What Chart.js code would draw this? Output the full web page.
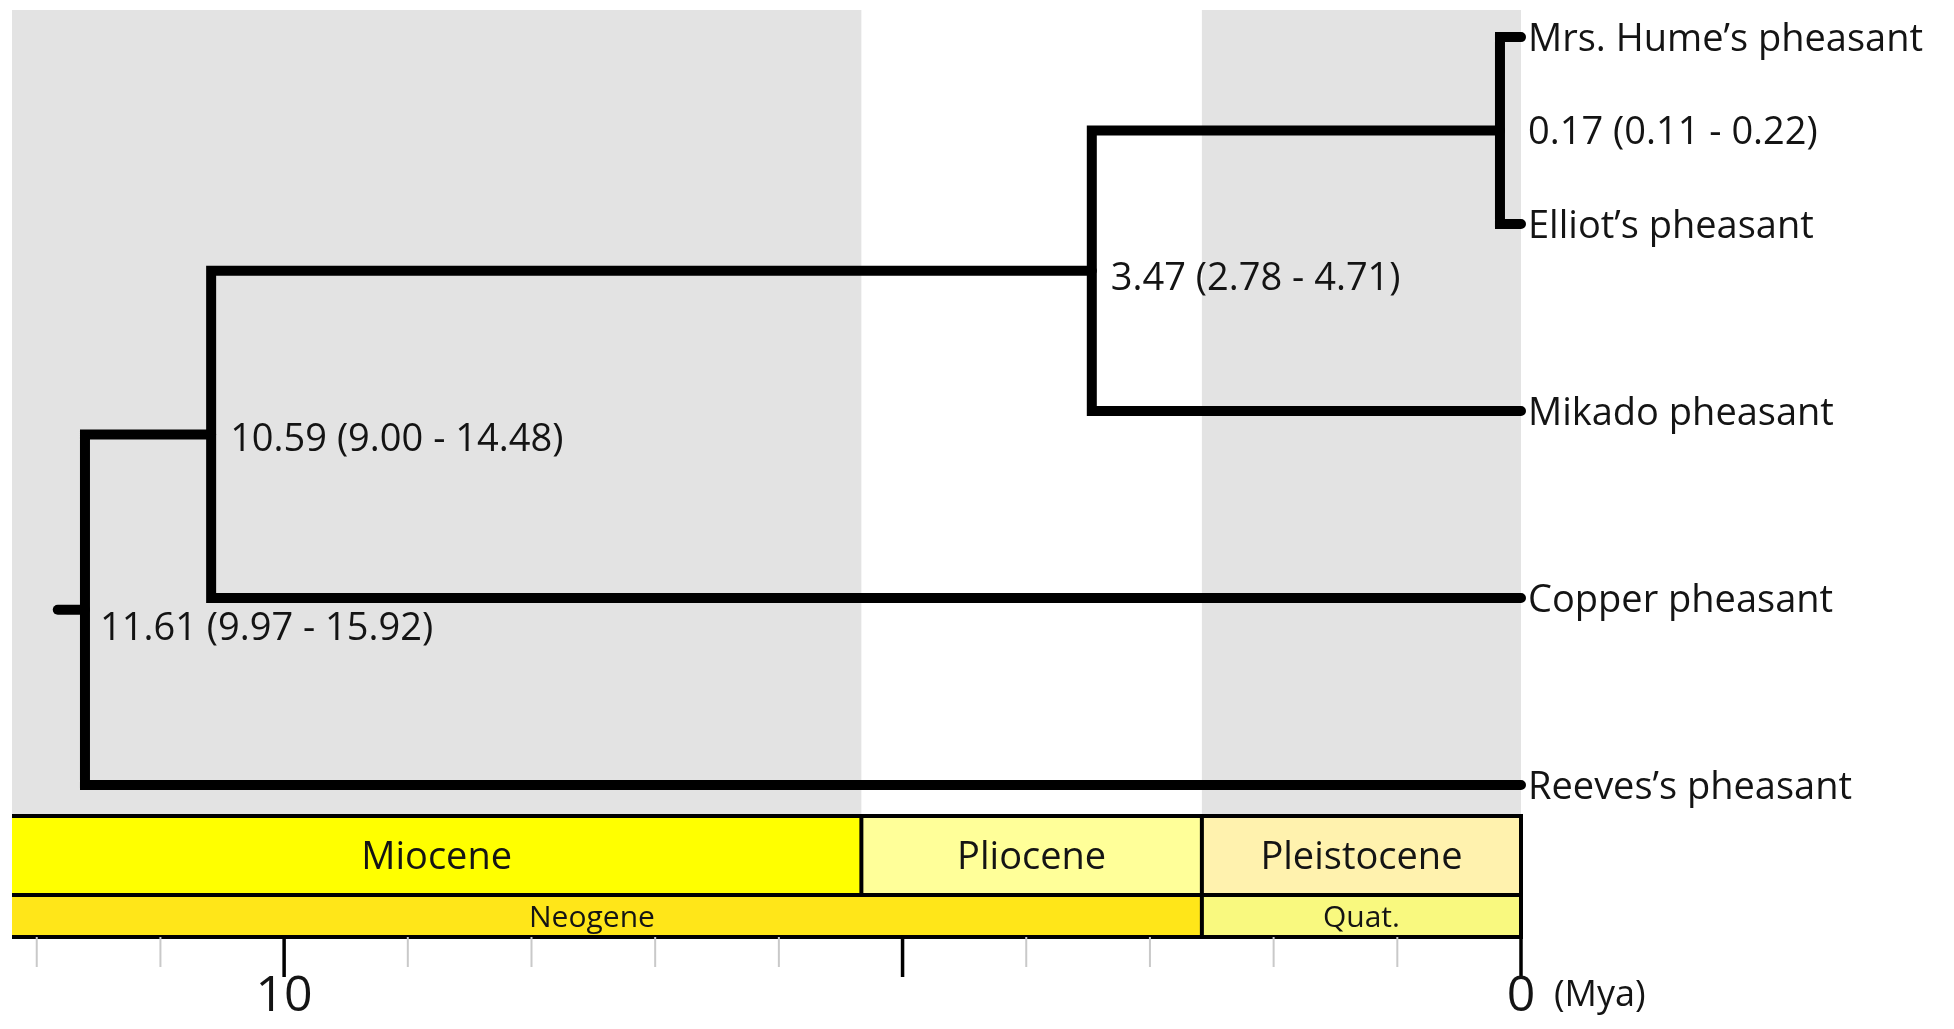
<!DOCTYPE html>
<html>
<head>
<meta charset="utf-8">
<title>Pheasant divergence times</title>
<script src="https://cdn.jsdelivr.net/npm/chart.js@4.4.1/dist/chart.umd.min.js"></script>
<style>
  html, body { margin: 0; padding: 0; background: #ffffff; }
  #wrap { position: relative; width: 1954px; height: 1029px; }
</style>
</head>
<body>
<div id="wrap"><canvas id="tree"></canvas></div>
<script>
// ---- Tree data -------------------------------------------------------------
// Tips, listed top to bottom
const taxa = ["Mrs. Hume’s pheasant", "Elliot’s pheasant", "Mikado pheasant", "Copper pheasant", "Reeves’s pheasant"];
const tipAges = [0, 0, 0, 0, 0];

// Divergence nodes (Mya) with 95% intervals
const nodeAges = [0.17, 3.47, 10.59, 11.61];
const nodeLow  = [0.11, 2.78, 9.00, 9.97];
const nodeHigh = [0.22, 4.71, 14.48, 15.92];
// Children of each node: "t" = tip index, "n" = node index
const nodeChildren = [["t0", "t1"], ["n0", "t2"], ["n1", "t3"], ["n2", "t4"]];
const rootStemAge = 11.83;

// ---- Geological time scale -------------------------------------------------
const epochNames = ["Miocene", "Pliocene", "Pleistocene"];
const epochStart = [23.03, 5.333, 2.58];
const epochEnd   = [5.333, 2.58, 0];
const epochColors = ["#ffff00", "#ffff99", "#fff2ae"];

const periodNames = ["Neogene", "Quat."];
const periodStart = [23.03, 2.58];
const periodEnd   = [2.58, 0];
const periodColors = ["#ffe619", "#f9f97f"];

// ---- Time axis -------------------------------------------------------------
const tickValues = [0, 1, 2, 3, 4, 5, 6, 7, 8, 9, 10, 11, 12];
const majorTicks = [0, 5, 10];
const tickLabelValues = [10, 0];
const tickLabelTexts = ["10", "0"];
const axisUnit = "(Mya)";

// ---- Layout of the cladogram (tips evenly spaced, nodes centred) ----------
const tipY = taxa.map((_, i) => i);
const nodeY = [];
function childPoint(code) {
  const k = Number(code.slice(1));
  return code[0] === "t" ? { x: tipAges[k], y: tipY[k] } : { x: nodeAges[k], y: nodeY[k] };
}
nodeChildren.forEach((pair, i) => {
  const a = childPoint(pair[0]), b = childPoint(pair[1]);
  nodeY[i] = (a.y + b.y) / 2;
});

const branchStyle = {
  showLine: true,
  borderColor: "#000000",
  borderWidth: 10,
  borderJoinStyle: "miter",
  borderCapStyle: "round",
  pointRadius: 0,
  pointHoverRadius: 0,
  tension: 0,
  clip: false
};

const datasets = nodeChildren.map((pair, i) => {
  const a = childPoint(pair[0]), b = childPoint(pair[1]);
  return Object.assign({
    label: "node " + nodeAges[i],
    data: [a, { x: nodeAges[i], y: a.y }, { x: nodeAges[i], y: b.y }, b]
  }, branchStyle);
});
const rootIdx = nodeAges.length - 1;
datasets.push(Object.assign({
  label: "root",
  data: [{ x: rootStemAge, y: nodeY[rootIdx] }, { x: nodeAges[rootIdx], y: nodeY[rootIdx] }]
}, branchStyle));

// ---- Styling ---------------------------------------------------------------
const FONT = "'Open Sans', 'Noto Sans', sans-serif";
const TEXT = "#141414";
const labelSize = 38;
// per-node label offsets (px) from the node position
const nodeLabelDx = [null, 19, 19, 15];
const nodeLabelDy = [0, 6, 3, 17];
const periodLabelDx = [-15, 0];

function textAtCentre(ctx, txt, x, yMid, size, align) {
  ctx.font = size + "px " + FONT;
  ctx.textAlign = align;
  ctx.textBaseline = "alphabetic";
  ctx.fillText(txt, x, yMid + size * 0.357);
}

const timescalePlugin = {
  id: "timescale",
  beforeDatasetsDraw(chart) {
    const { ctx, chartArea: ca, scales: { x } } = chart;
    ctx.save();
    ctx.fillStyle = "#e3e3e3";
    epochNames.forEach((_, i) => {
      if (i % 2) return;
      const l = Math.max(x.getPixelForValue(epochStart[i]), ca.left);
      const r = Math.min(x.getPixelForValue(epochEnd[i]), ca.right);
      ctx.fillRect(l, ca.top, r - l, ca.bottom - ca.top);
    });
    ctx.restore();
  },
  afterDatasetsDraw(chart) {
    const { ctx, chartArea: ca, scales: { x, y } } = chart;
    const x0 = x.getPixelForValue(0);
    const epochTop = ca.bottom, epochBot = ca.bottom + 79, periodBot = ca.bottom + 121;
    ctx.save();

    // epoch and period boxes
    const clampL = v => Math.max(x.getPixelForValue(v), ca.left);
    epochNames.forEach((name, i) => {
      const l = clampL(epochStart[i]), r = x.getPixelForValue(epochEnd[i]);
      ctx.fillStyle = epochColors[i];
      ctx.fillRect(l, epochTop, r - l, epochBot - epochTop);
      ctx.fillStyle = TEXT;
      textAtCentre(ctx, name, (l + r) / 2, (epochTop + epochBot) / 2, 38, "center");
    });
    periodNames.forEach((name, i) => {
      const l = clampL(periodStart[i]), r = x.getPixelForValue(periodEnd[i]);
      ctx.fillStyle = periodColors[i];
      ctx.fillRect(l, epochBot, r - l, periodBot - epochBot);
      ctx.fillStyle = TEXT;
      textAtCentre(ctx, name, (l + r) / 2 + periodLabelDx[i], (epochBot + periodBot) / 2, 30, "center");
    });

    ctx.strokeStyle = "#000000";
    ctx.lineWidth = 4;
    ctx.lineCap = "butt";
    ctx.beginPath();
    [epochTop, epochBot, periodBot].forEach(yy => { ctx.moveTo(ca.left, yy); ctx.lineTo(x0 + 2, yy); });
    epochEnd.forEach((v, i) => {
      const px = x.getPixelForValue(v);
      const isPeriodEdge = periodEnd.includes(v);
      ctx.moveTo(px, epochTop - 2);
      ctx.lineTo(px, isPeriodEdge ? periodBot : epochBot);
    });
    ctx.stroke();

    // time axis ticks
    tickValues.forEach(v => {
      const px = x.getPixelForValue(v);
      const major = majorTicks.includes(v);
      ctx.beginPath();
      ctx.strokeStyle = major ? "#000000" : "#c9c9c9";
      ctx.lineWidth = major ? 3.5 : 2;
      ctx.moveTo(px, periodBot);
      ctx.lineTo(px, periodBot + (major ? 40 : 30));
      ctx.stroke();
    });
    ctx.fillStyle = TEXT;
    tickLabelValues.forEach((v, i) => {
      textAtCentre(ctx, tickLabelTexts[i], x.getPixelForValue(v), periodBot + 56, 50, "center");
    });
    textAtCentre(ctx, axisUnit, x0 + 33, periodBot + 56, 36, "left");

    // tip labels
    taxa.forEach((name, i) => {
      textAtCentre(ctx, name, x.getPixelForValue(tipAges[i]) + 7, y.getPixelForValue(tipY[i]), labelSize, "left");
    });

    // node age labels
    nodeAges.forEach((age, i) => {
      const txt = age.toFixed(2) + " (" + nodeLow[i].toFixed(2) + " - " + nodeHigh[i].toFixed(2) + ")";
      const px = nodeLabelDx[i] === null ? x0 + 7 : x.getPixelForValue(age) + nodeLabelDx[i];
      textAtCentre(ctx, txt, px, y.getPixelForValue(nodeY[i]) + nodeLabelDy[i], labelSize, "left");
    });
    ctx.restore();
  }
};

new Chart(document.getElementById("tree"), {
  type: "scatter",
  data: { datasets },
  options: {
    responsive: true,
    maintainAspectRatio: false,
    animation: false,
    events: [],
    layout: { padding: { left: 12, right: 433, top: 10, bottom: 213 } },
    plugins: { legend: { display: false }, tooltip: { enabled: false } },
    scales: {
      x: { type: "linear", reverse: true, min: 0, max: 12.2, display: false },
      y: { type: "linear", reverse: true, min: -0.145, max: 4.166, display: false }
    }
  },
  plugins: [timescalePlugin]
});
</script>
</body>
</html>
